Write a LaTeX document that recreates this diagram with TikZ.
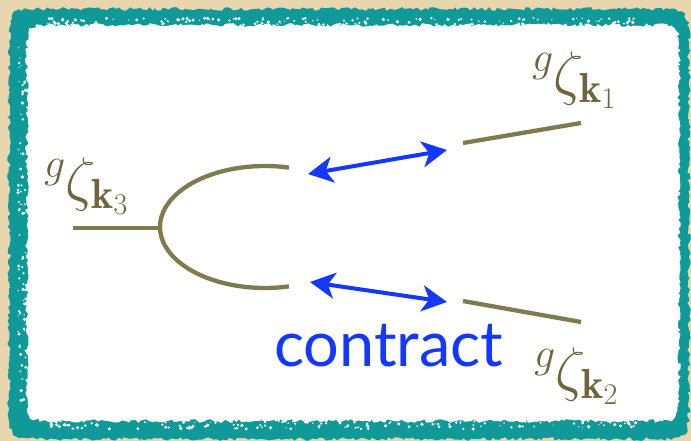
\documentclass[tikz,border=0pt]{standalone}
\usepackage{fix-cm}
\usepackage{fontspec}
\newfontfamily\contractfont{Lato}
\usetikzlibrary{arrows.meta,decorations.pathmorphing}

\definecolor{parchment}{RGB}{232,214,174}
\definecolor{chalkteal}{RGB}{16,153,153}
\definecolor{olive}{RGB}{126,123,78}
\definecolor{labelbrown}{RGB}{111,100,64}
\definecolor{arrowblue}{RGB}{20,56,255}

\tikzset{
  leg/.style={draw=olive, line width=4.3pt},
  swap/.style={draw=arrowblue, line width=4pt,
    {Stealth[length=25pt,width=26pt,inset=7pt]}-{Stealth[length=25pt,width=26pt,inset=7pt]}},
  fieldlabel/.style={text=labelbrown, inner sep=0pt, anchor=west,
    font=\fontsize{60}{64}\selectfont},
  chalk/.style={decorate, decoration={random steps, segment length=3pt, amplitude=1.8pt}},
}

\begin{document}
\begin{tikzpicture}[x=1pt, y=-1pt]
  \useasboundingbox (0,0) rectangle (691,441);
  \pgfmathsetseed{7}

  % parchment backdrop
  \fill[parchment] (0,0) rectangle (691,441);

  % chalk frame: teal band, then the white board inside it
  \fill[chalkteal, chalk]
    (50,9) -- (649,9) .. controls (689,9) .. (689,49) -- (689,399)
    .. controls (689,439) .. (649,439) -- (50,439)
    .. controls (9,439) .. (9,399) -- (9,49)
    .. controls (9,9) .. (50,9) -- cycle;
  \fill[white, chalk]
    (58,25) -- (648,25) .. controls (679,25) .. (679,56) -- (679,390)
    .. controls (679,421) .. (648,421) -- (58,421)
    .. controls (27,421) .. (27,390) -- (27,56)
    .. controls (27,25) .. (58,25) -- cycle;

  % chalk grain: white flecks along the inner rim of the band
  \foreach \i in {1,...,140}{
    \pgfmathsetmacro{\px}{45+610*rnd}
    \pgfmathsetmacro{\py}{18+7*rnd}
    \pgfmathsetmacro{\qy}{421+8*rnd}
    \pgfmathsetmacro{\rr}{0.6+1.2*rnd}
    \fill[white] (\px,\py) circle[radius=\rr];
    \fill[white] (\px+3*rnd,\qy) circle[radius=\rr];
  }
  \foreach \i in {1,...,80}{
    \pgfmathsetmacro{\py}{45+360*rnd}
    \pgfmathsetmacro{\px}{18+8*rnd}
    \pgfmathsetmacro{\qx}{673+6*rnd}
    \pgfmathsetmacro{\rr}{0.6+1.2*rnd}
    \fill[white] (\px,\py) circle[radius=\rr];
    \fill[white] (\qx,\py+3*rnd) circle[radius=\rr];
  }

  % vertex: incoming leg and the split
  \coordinate (stub) at (73,228);
  \coordinate (vtx) at (160,228);
  \coordinate (upEnd) at (289,169);
  \coordinate (lowEnd) at (289,286);
  \draw[leg] (stub) -- (vtx);
  \draw[leg] plot[domain=76.8:283.2, samples=80] ({265+105*cos(\x)},{227-61*sin(\x)});

  % outer legs
  \coordinate (a1) at (463,143);
  \coordinate (b1) at (581,123);
  \coordinate (a2) at (463,301);
  \coordinate (b2) at (581,322);
  \draw[leg] (a1) -- (b1);
  \draw[leg] (a2) -- (b2);

  % contraction arrows
  \coordinate (p1) at (308,174);
  \coordinate (q1) at (447,150);
  \coordinate (p2) at (310,282);
  \coordinate (q2) at (447,302);
  \draw[swap] (p1) -- (q1);
  \draw[swap] (p2) -- (q2);

  % labels
  \node[fieldlabel] (k1) at (532,80) {${}^{g}\zeta_{\mathbf{k}_1}$};
  \node[fieldlabel] (k3) at (44,186) {${}^{g}\zeta_{\mathbf{k}_3}$};
  \node[fieldlabel] (k2) at (534,376) {${}^{g}\zeta_{\mathbf{k}_2}$};
  \node[text=arrowblue, inner sep=0pt, anchor=base west,
        font=\contractfont\fontsize{63}{67}\selectfont] (lbl) at (274,366) {contract};
\end{tikzpicture}
\end{document}
